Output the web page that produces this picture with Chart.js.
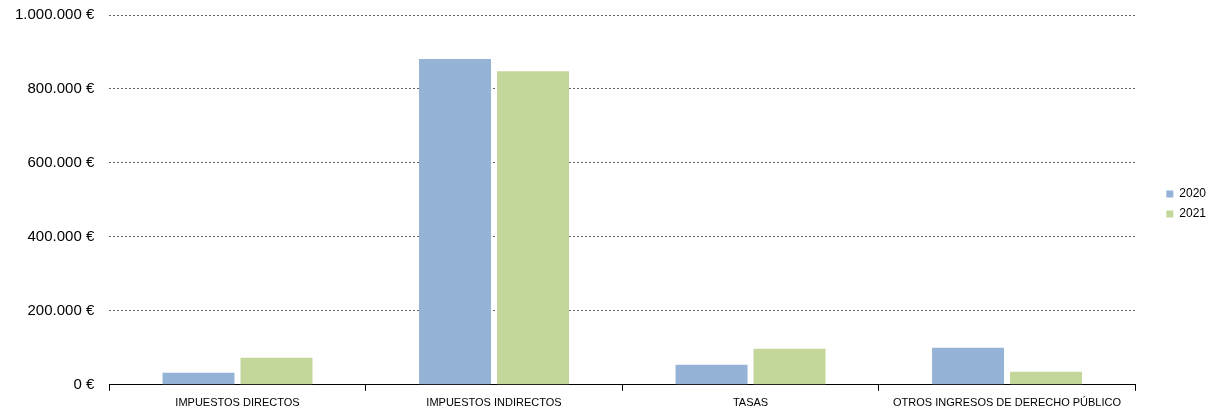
<!DOCTYPE html>
<html>
<head>
<meta charset="utf-8">
<script src="https://cdn.jsdelivr.net/npm/chart.js@4"></script>
<style>
html,body{margin:0;padding:0;background:#fff;}
#wrap{width:1209px;height:416px;position:relative;}
</style>
</head>
<body>
<div id="wrap"><canvas id="c" width="1209" height="416"></canvas></div>
<script>
const categories = ["IMPUESTOS DIRECTOS", "IMPUESTOS INDIRECTOS", "TASAS", "OTROS INGRESOS DE DERECHO PÚBLICO"];
const seriesNames = ["2020", "2021"];
const values2020 = [32500, 881000, 54000, 100000];
const values2021 = [73000, 848000, 97500, 35000];
const yTicks = [0, 200000, 400000, 600000, 800000, 1000000];

function fmt(v){
  return v.toString().replace(/\B(?=(\d{3})+(?!\d))/g, ".") + " €";
}

const legendShift = {
  id: "legendShift",
  afterLayout(chart){
    const lg = chart.legend;
    if (!lg) return;
    lg.left += 23; lg.right += 23;
    lg.top -= 4; lg.bottom -= 4;
  }
};

new Chart(document.getElementById("c"), {
  type: "bar",
  data: {
    labels: categories,
    datasets: [
      {label: seriesNames[0], data: values2020, backgroundColor: "#95b3d7", barPercentage: 0.923, categoryPercentage: 0.608},
      {label: seriesNames[1], data: values2021, backgroundColor: "#c4d79b", barPercentage: 0.923, categoryPercentage: 0.608}
    ]
  },
  plugins: [legendShift],
  options: {
    responsive: false,
    animation: false,
    devicePixelRatio: 1,
    layout: {padding: {top: 0, right: 16, bottom: 0, left: 0}},
    plugins: {
      legend: {
        position: "right",
        align: "center",
        labels: {
          boxWidth: 7, boxHeight: 7, padding: 8,
          color: "#000",
          font: {family: "Liberation Sans, Arial, sans-serif", size: 12}
        }
      },
      tooltip: {enabled: false}
    },
    scales: {
      x: {
        grid: {display: true, drawOnChartArea: false, drawTicks: true, tickLength: 6, color: "#000", offset: true},
        border: {display: true, color: "#000", width: 1},
        ticks: {color: "#000", font: {family: "Liberation Sans, Arial, sans-serif", size: 11}, padding: 6, maxRotation: 0, autoSkip: false}
      },
      y: {
        min: 0, max: 1000000,
        afterBuildTicks: (axis) => { axis.ticks = yTicks.map(v => ({value: v})); },
        afterFit: (axis) => { axis.paddingTop = 15; axis.paddingBottom = 0; },
        grid: {color: "#666", lineWidth: 1, drawTicks: false},
        border: {display: false, dash: [2, 2]},
        ticks: {color: "#000", padding: 15, font: {family: "Liberation Sans, Arial, sans-serif", size: 15}, callback: (v) => fmt(v)}
      }
    }
  }
});
</script>
</body>
</html>
